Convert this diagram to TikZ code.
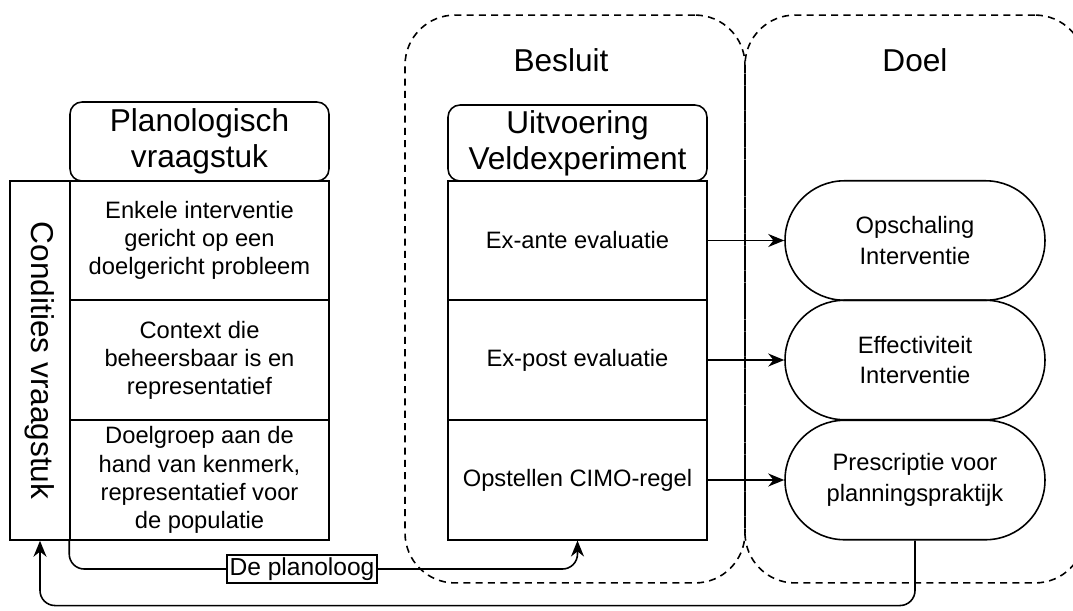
\documentclass[tikz,border=0pt]{standalone}
\usepackage{fontspec}
\setmainfont{Liberation Sans}
\usetikzlibrary{arrows.meta}

\tikzset{
  cell/.style={draw,line width=0.9pt,minimum width=5.18cm,minimum height=2.39cm,align=center,inner sep=1pt,font=\fontsize{13.5}{16}\selectfont},
  headbox/.style={draw,line width=0.9pt,rounded corners=0.24cm,minimum width=5.18cm,align=center,inner sep=1pt,font=\fontsize{18}{20.5}\selectfont},
  pill/.style={draw,line width=0.9pt,rounded corners=1.19cm,minimum width=5.2cm,minimum height=2.39cm,align=center,font=\fontsize{13.5}{17.5}\selectfont},
  zone/.style={draw,line width=0.9pt,dash pattern=on 4pt off 3pt,rounded corners=1cm,minimum width=6.8cm,minimum height=11.36cm},
  zonelabel/.style={font=\fontsize{18}{20}\selectfont},
  link/.style={line width=0.9pt,-{Stealth[length=3.2mm,width=2.6mm]}},
}

\begin{document}
\begin{tikzpicture}[x=0.02cm,y=-0.02cm]
\useasboundingbox (0,0) rectangle (1073,610);
\clip (0,0) rectangle (1073,610);

\node[zone] (besluit) at (575,299) {};
\node[zone] (doel) at (915,299) {};
\node[zonelabel] (besluitlbl) at (561,60) {Besluit};
\node[zonelabel] (doellbl) at (915,60) {Doel};

\node[headbox,minimum height=1.58cm] (planhead) at (199.5,141.5) {Planologisch\\vraagstuk};
\node[cell] (plan1) at (199.5,240.5) {Enkele interventie\\gericht op een\\doelgericht probleem};
\node[cell] (plan2) at (199.5,360) {Context die\\beheersbaar is en\\representatief};
\node[cell] (plan3) at (199.5,480) {Doelgroep aan de\\hand van kenmerk,\\representatief voor\\de populatie};
\node[draw,line width=0.9pt,minimum width=1.2cm,minimum height=7.18cm] (cond) at (40,360.5) {};
\node[rotate=-90,zonelabel] (condlbl) at (cond.center) {Condities vraagstuk};

\node[headbox,minimum height=1.52cm] (uitvhead) at (577.5,143) {Uitvoering\\Veldexperiment};
\node[cell] (uitv1) at (577.5,240.5) {Ex-ante evaluatie};
\node[cell] (uitv2) at (577.5,360) {Ex-post evaluatie};
\node[cell] (uitv3) at (577.5,480) {Opstellen CIMO-regel};

\node[pill] (doel1) at (915,240.5) {Opschaling\\Interventie};
\node[pill] (doel2) at (915,360) {Effectiviteit\\Interventie};
\node[pill] (doel3) at (915,480) {Prescriptie voor\\planningspraktijk};

\draw[link] (uitv1.east) -- (doel1.west);
\draw[link] (uitv2.east) -- (doel2.west);
\draw[link] (uitv3.east) -- (doel3.west);

\node[draw,fill=white,line width=0.9pt,inner sep=1.5pt,font=\fontsize{14}{16}\selectfont] (plano) at (302,569) {De planoloog};
\draw[line width=0.9pt,rounded corners=0.3cm] (plan3.south west) |- (plano.west);
\draw[link,rounded corners=0.3cm] (plano.east) -| (uitv3.south);
\draw[link,rounded corners=0.3cm] (doel3.south) -- ++(0,65) -| (cond.south);
\end{tikzpicture}
\end{document}
